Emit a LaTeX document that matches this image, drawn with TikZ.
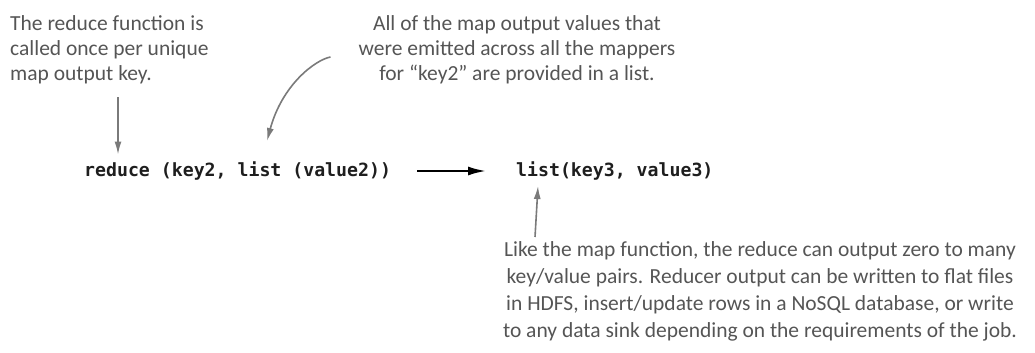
\documentclass[tikz,border=0pt]{standalone}
\usepackage{fontspec}
\setmainfont{Carlito}
\newfontfamily\codefont{DejaVu Sans Mono}
\usetikzlibrary{arrows.meta,calc}
\definecolor{notegray}{HTML}{555555}
\definecolor{arrowgray}{HTML}{7A7A7A}
\definecolor{codeink}{HTML}{1E1E1E}
\tikzset{
  note/.style={inner sep=0pt, text=notegray, font=\fontsize{21.5}{25}\selectfont},
  code/.style={inner sep=0pt, text=codeink, font=\codefont\bfseries\fontsize{18.2}{20}\selectfont},
  callout/.style={draw=arrowgray, line width=1.6pt, -{Latex[length=13pt,width=7pt]}},
  flow/.style={draw=black, line width=2.8pt, -{Latex[length=19pt,width=9pt]}},
}
\begin{document}
\begin{tikzpicture}[x=1pt,y=-1pt]
  \useasboundingbox (0,0) rectangle (1035,353);

  % the reduce signature and its result
  \node[code, anchor=west] (red) at (84,171) {reduce (key2, list (value2))};
  \node[code, anchor=west] (res) at (516,171) {list(key3, value3)};
  \draw[flow, shorten <=26pt, shorten >=29pt] (red.east) -- (res.west);

  % notes
  \node[note, anchor=west, align=left] (keynote) at (10,50)
    {The reduce function is\\called once per unique\\map output key.};
  \node[note, align=center] (listnote) at (517,50)
    {All of the map output values that\\were emitted across all the mappers\\for \textquotedblleft key2\textquotedblright{} are provided in a list.};
  \node[note, align=center, font=\fontsize{21.5}{27}\selectfont] (outnote) at (760,291)
    {Like the map function, the reduce can output zero to many\\
     key/value pairs. Reducer output can be written to flat files\\
     in HDFS, insert/update rows in a NoSQL database, or write\\
     to any data sink depending on the requirements of the job.};

  % callout arrows
  \coordinate (keytail) at (118,97);
  \draw[callout] (keytail) -- ($(keytail |- red.north)+(0,-7)$);

  \coordinate (listtip) at (267,141);
  \draw[callout] ([shift={(-28,7)}]listnote.west)
    .. controls (315,60) and (282,85) .. (listtip);

  \coordinate (restip) at (538,186);
  \draw[callout] ($(outnote.north -| restip)+(-3,-4)$) -- (restip);
\end{tikzpicture}
\end{document}
